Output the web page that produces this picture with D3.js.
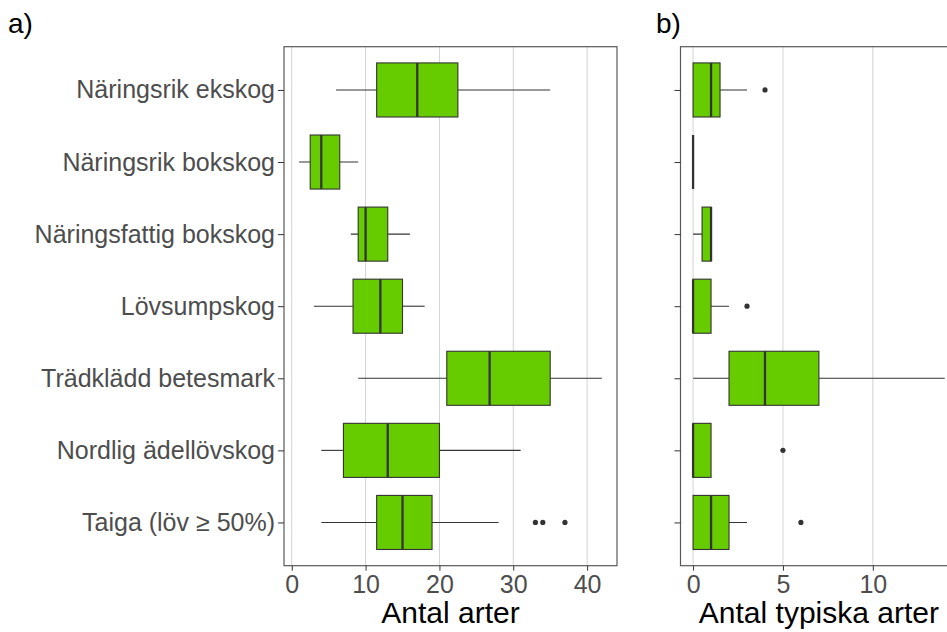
<!DOCTYPE html>
<html lang="sv">
<head>
    <meta charset="UTF-8">
    <title>Antal arter per skogstyp</title>
    <script src="https://d3js.org/d3.v7.min.js"></script>
    <style>
        body {
            margin: 0;
            padding: 0;
            background: #ffffff;
            font-family: Arial, "Liberation Sans", sans-serif;
        }
        svg { display: block; }
        .tick text { fill: #4d4d4d; }
    </style>
</head>
<body>
    <svg id="chart"></svg>

    <script>
        // categories, top to bottom
        const categories = [
            "Näringsrik ekskog",
            "Näringsrik bokskog",
            "Näringsfattig bokskog",
            "Lövsumpskog",
            "Trädklädd betesmark",
            "Nordlig ädellövskog",
            "Taiga (löv ≥ 50%)"
        ];

        // a) Antal arter - box statistics per category
        const lowA  = [6, 1, 8, 3, 9, 4, 4];
        const q1A   = [11.5, 2.5, 9, 8.3, 21, 7, 11.5];
        const medA  = [17, 4, 10, 12, 26.8, 13, 15];
        const q3A   = [22.5, 6.5, 13, 15, 35, 20, 19];
        const highA = [35, 9, 16, 18, 42, 31, 28];
        const outA  = [[], [], [], [], [], [], [33, 34, 37]];
        const ticksA = [0, 10, 20, 30, 40];

        // b) Antal typiska arter
        const lowB  = [0, 0, 0, 0, 0, 0, 0];
        const q1B   = [0, 0, 0.5, 0, 2, 0, 0];
        const medB  = [1, 0, 1, 0, 4, 0, 1];
        const q3B   = [1.5, 0, 1, 1, 7, 1, 2];
        const highB = [3, 0, 1, 2, 14, 1, 3];
        const outB  = [[4], [], [], [3], [], [5], [6]];
        const ticksB = [0, 5, 10];

        const width = 947;
        const height = 632;
        const plotTop = 46.7, plotBottom = 565.7;
        const boxFill = "#66cc00";
        const ink = "#333333";
        const labelSize = "25px";

        const svg = d3.select("#chart")
            .attr("width", width)
            .attr("height", height);

        const y = d3.scalePoint()
            .domain(categories)
            .range([plotTop, plotBottom])
            .padding(0.6);

        const boxH = y.step() * 0.75;

        function drawPanel(opts) {
            const x = d3.scaleLinear().domain(opts.domain).range([opts.left, opts.right]);
            const g = svg.append("g");

            const clipId = "clip-" + opts.name;
            svg.append("clipPath").attr("id", clipId)
                .append("rect")
                .attr("x", opts.left).attr("y", plotTop - 2)
                .attr("width", Math.min(opts.right, width) - opts.left + 2)
                .attr("height", plotBottom - plotTop + 4);

            const inner = g.append("g").attr("clip-path", `url(#${clipId})`);

            // vertical grid lines
            inner.selectAll(".grid")
                .data(opts.ticks)
                .join("line")
                .attr("x1", d => x(d)).attr("x2", d => x(d))
                .attr("y1", plotTop).attr("y2", plotBottom)
                .attr("stroke", "#d3d3d3")
                .attr("stroke-width", 1);

            const rows = categories.map((c, i) => ({
                cat: c, low: opts.low[i], q1: opts.q1[i], med: opts.med[i],
                q3: opts.q3[i], high: opts.high[i], out: opts.out[i]
            }));

            const row = inner.selectAll(".row")
                .data(rows)
                .join("g")
                .attr("class", "row");

            // whiskers
            row.append("line")
                .attr("x1", d => x(d.low)).attr("x2", d => x(d.q1))
                .attr("y1", d => y(d.cat)).attr("y2", d => y(d.cat))
                .attr("stroke", ink).attr("stroke-width", 1.1);
            row.append("line")
                .attr("x1", d => x(d.q3)).attr("x2", d => x(d.high))
                .attr("y1", d => y(d.cat)).attr("y2", d => y(d.cat))
                .attr("stroke", ink).attr("stroke-width", 1.1);

            // boxes
            row.append("rect")
                .attr("x", d => x(d.q1))
                .attr("y", d => y(d.cat) - boxH / 2)
                .attr("width", d => x(d.q3) - x(d.q1))
                .attr("height", boxH)
                .attr("fill", boxFill)
                .attr("stroke", ink)
                .attr("stroke-width", 1.1);

            // medians
            row.append("line")
                .attr("x1", d => x(d.med)).attr("x2", d => x(d.med))
                .attr("y1", d => y(d.cat) - boxH / 2)
                .attr("y2", d => y(d.cat) + boxH / 2)
                .attr("stroke", ink).attr("stroke-width", 2.3);

            // outliers
            row.selectAll("circle")
                .data(d => d.out.map(v => ({ v, cat: d.cat })))
                .join("circle")
                .attr("cx", d => x(d.v))
                .attr("cy", d => y(d.cat))
                .attr("r", 2.6)
                .attr("fill", ink);

            // panel border
            g.append("rect")
                .attr("x", opts.left).attr("y", plotTop)
                .attr("width", opts.right - opts.left)
                .attr("height", plotBottom - plotTop)
                .attr("fill", "none")
                .attr("stroke", "#595959")
                .attr("stroke-width", 1.2);

            // x axis
            const xAxis = g.append("g")
                .attr("transform", `translate(0,${plotBottom})`)
                .call(d3.axisBottom(x).tickValues(opts.ticks).tickSize(5).tickPadding(5));
            xAxis.select(".domain").remove();
            xAxis.selectAll(".tick line").attr("stroke", ink);
            xAxis.selectAll(".tick text")
                .attr("font-size", labelSize)
                .attr("font-family", "Arial, 'Liberation Sans', sans-serif");

            // y axis
            const yAxis = g.append("g")
                .attr("transform", `translate(${opts.left},0)`)
                .call(d3.axisLeft(y).tickSize(6).tickPadding(3));
            yAxis.select(".domain").remove();
            yAxis.selectAll(".tick line").attr("stroke", ink);
            yAxis.selectAll(".tick text")
                .attr("font-size", labelSize)
                .attr("font-family", "Arial, 'Liberation Sans', sans-serif");
            if (!opts.labels) yAxis.selectAll(".tick text").remove();

            // axis title
            svg.append("text")
                .attr("x", (opts.left + opts.right) / 2)
                .attr("y", 623)
                .attr("text-anchor", "middle")
                .attr("font-size", "30px")
                .attr("fill", "#000")
                .text(opts.title);

            // panel tag
            svg.append("text")
                .attr("x", opts.tagX)
                .attr("y", 33)
                .attr("font-size", "28px")
                .attr("fill", "#000")
                .text(opts.tag);
        }

        drawPanel({
            name: "a", left: 284, right: 617, domain: [-1.05, 44.05],
            ticks: ticksA, low: lowA, q1: q1A, med: medA, q3: q3A, high: highA, out: outA,
            labels: true, title: "Antal arter", tag: "a)", tagX: 8
        });

        drawPanel({
            name: "b", left: 680.5, right: 957.3, domain: [-0.7, 14.7],
            ticks: ticksB, low: lowB, q1: q1B, med: medB, q3: q3B, high: highB, out: outB,
            labels: false, title: "Antal typiska arter", tag: "b)", tagX: 656
        });
    </script>
</body>
</html>
